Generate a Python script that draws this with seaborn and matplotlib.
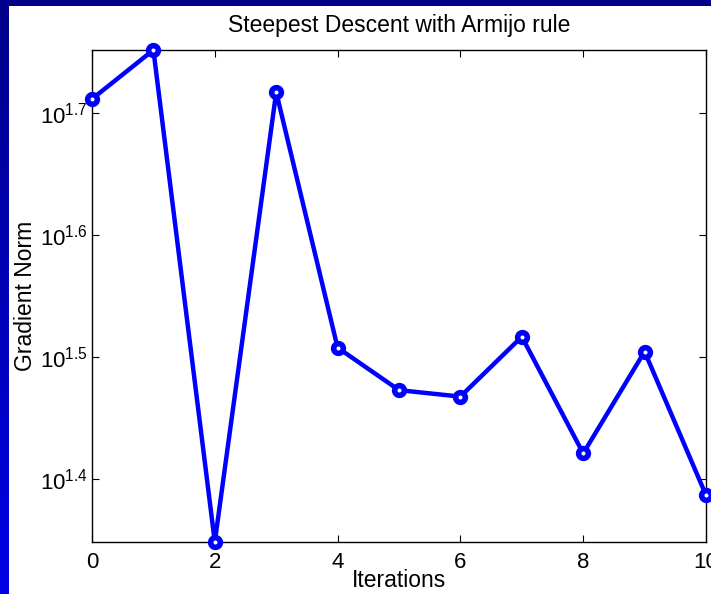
import numpy as np
import pandas as pd
import matplotlib
matplotlib.use("Agg")
import matplotlib.pyplot as plt
import seaborn as sns
from matplotlib.patches import Rectangle
from matplotlib.ticker import FixedLocator, FixedFormatter, NullLocator

# ---- data ----
iterations = [0, 1, 2, 3, 4, 5, 6, 7, 8, 9, 10]
grad_norm = [51.46, 56.44, 22.32, 52.12, 32.20, 29.72, 29.36, 32.87, 26.38, 31.96, 24.38]
ytick_exps = [1.4, 1.5, 1.6, 1.7]
xtick_vals = [0, 2, 4, 6, 8, 10]
title = "Steepest Descent with Armijo rule"
xlabel = "Iterations"
ylabel = "Gradient Norm"

df = pd.DataFrame({"Iterations": iterations, "Gradient Norm": grad_norm})

sns.set_style("ticks")
plt.rcParams["font.family"] = ["Liberation Sans", "DejaVu Sans"]
plt.rcParams["mathtext.fontset"] = "custom"
plt.rcParams["mathtext.rm"] = "Liberation Sans"
plt.rcParams["mathtext.it"] = "Liberation Sans"
plt.rcParams["text.color"] = "black"
plt.rcParams["axes.labelcolor"] = "black"
plt.rcParams["xtick.color"] = "black"
plt.rcParams["ytick.color"] = "black"

W, H = 711, 594
fig = plt.figure(figsize=(W / 100, H / 100), dpi=100)

# background gradient band (left and top)
bg = fig.add_axes([0, 0, 1, 1], zorder=-10)
grad = np.linspace(0, 1, 256).reshape(-1, 1)
cmap = matplotlib.colors.LinearSegmentedColormap.from_list(
    "bandblue", [(0.0, 0.0, 0.54), (0.0, 0.0, 0.9)])
bg.imshow(grad, aspect="auto", cmap=cmap, extent=[0, 1, 0, 1], origin="upper")
bg.add_patch(Rectangle((9 / W, 0), 1, (H - 6) / H, facecolor="white", edgecolor="none"))
bg.set_xlim(0, 1)
bg.set_ylim(0, 1)
bg.axis("off")

ax = fig.add_axes([92 / W, 52 / H, 614 / W, 492 / H])
ax.set_facecolor("white")
sns.lineplot(data=df, x="Iterations", y="Gradient Norm", ax=ax, color="#0000ff",
             linewidth=3.2, marker="o", markersize=7, markeredgewidth=4,
             markerfacecolor="white", markeredgecolor="#0000ff", clip_on=False,
             zorder=5)
ax.set_yscale("log")
ax.set_xlim(0, 10)
ax.set_ylim(min(grad_norm), max(grad_norm))

ax.xaxis.set_major_locator(FixedLocator(xtick_vals))
ax.yaxis.set_major_locator(FixedLocator([10 ** e for e in ytick_exps]))
ax.yaxis.set_major_formatter(FixedFormatter([r"$10^{%s}$" % e for e in ytick_exps]))
ax.yaxis.set_minor_locator(NullLocator())
ax.xaxis.set_minor_locator(NullLocator())

ax.tick_params(direction="in", length=5, width=0.8, top=True, right=True,
               labelsize=16, colors="black")
ax.tick_params(axis="y", pad=3)
ax.tick_params(axis="x", pad=7)
for s in ax.spines.values():
    s.set_visible(True)
    s.set_linewidth(1.0)
    s.set_color("black")

ax.set_title(title, fontsize=16.5, pad=13, color="black")
ax.set_xlabel(xlabel, fontsize=16.5, labelpad=-3)
ax.set_ylabel(ylabel, fontsize=16.5, labelpad=2)

fig.savefig("out.png", dpi=100)
